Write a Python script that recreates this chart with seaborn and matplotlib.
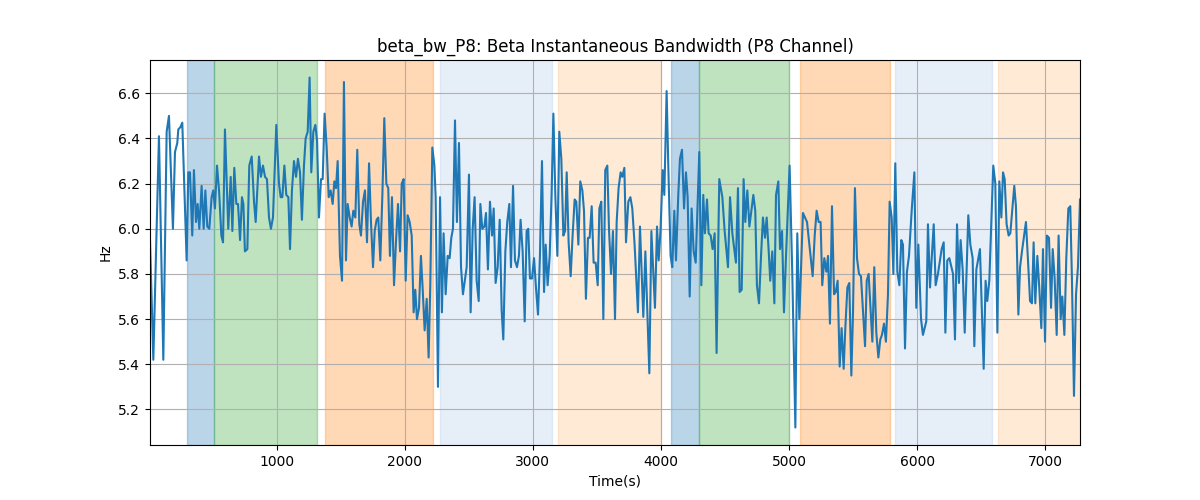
import numpy as np
import pandas as pd
import matplotlib
matplotlib.use("Agg")
import matplotlib.pyplot as plt
import seaborn as sns

# beta bandwidth, P8 channel
time_s = [
    11, 37, 81, 115, 141, 159, 190, 206, 224, 232, 248, 263, 297, 310, 323, 341, 354, 370, 383, 396,
    414, 430, 443, 458, 474, 492, 505, 518, 534, 550, 568, 581, 596, 622, 641, 654, 669, 685, 698, 714,
    729, 740, 752,
    771, 786, 805, 823, 836, 862, 877, 893, 909, 924, 940, 955, 971, 997, 1018, 1031, 1044, 1060, 1075, 1091,
    1104, 1119, 1135, 1151, 1166, 1182, 1197, 1213, 1226, 1242, 1257, 1270, 1286, 1302, 1315, 1330, 1346, 1359,
    1374, 1390, 1406, 1421, 1437, 1450, 1463, 1476, 1494,
    1510, 1525, 1541, 1554, 1570, 1585, 1598, 1614, 1629, 1645, 1658, 1674, 1689, 1705, 1721, 1736, 1752, 1765,
    1780, 1793, 1809, 1825, 1840, 1856, 1871, 1884, 1900, 1916, 1931, 1947, 1963, 1976, 1991, 2007, 2022, 2038,
    2054, 2069, 2082, 2095, 2111, 2126, 2139, 2155, 2171, 2186, 2199, 2215, 2231,
    2241, 2259, 2275, 2290, 2303, 2319, 2335, 2350, 2363, 2376, 2392, 2407, 2423, 2439, 2454, 2483, 2501, 2514,
    2530, 2545, 2561, 2577, 2590, 2605, 2621, 2634, 2649, 2665, 2681, 2694, 2709, 2725, 2741, 2756, 2769, 2785,
    2800, 2816, 2829, 2845, 2860, 2876, 2891, 2904, 2920, 2936, 2951, 2964, 2977,
    2993, 3009, 3024, 3040, 3055, 3071, 3087, 3100, 3115, 3131, 3146, 3160, 3175, 3191, 3206, 3222, 3238, 3251,
    3264, 3279, 3295, 3310, 3326, 3339, 3355, 3370, 3386, 3399, 3414, 3430, 3443, 3459, 3474, 3490, 3506, 3519,
    3534, 3550, 3565, 3581, 3594, 3610, 3625, 3641, 3654, 3669, 3685, 3698, 3714,
    3727, 3745, 3761, 3776, 3794, 3820, 3836, 3862, 3878, 3909, 3925, 3953, 3969, 3982, 3997, 4013, 4026, 4044,
    4057, 4075, 4088, 4104, 4117, 4135, 4148, 4164, 4180, 4195, 4208, 4224, 4239, 4255, 4271, 4284, 4299, 4315,
    4330, 4343, 4359, 4372, 4388, 4403, 4419, 4434, 4455,
    4479, 4497, 4523, 4539, 4557, 4585, 4601, 4614, 4630, 4645, 4658, 4674, 4690, 4721, 4736, 4749, 4765, 4781,
    4796, 4812, 4825, 4840, 4853, 4869, 4885, 4898, 4916, 4929, 4945, 4960, 4976, 5004, 5025, 5049, 5064, 5080,
    5108, 5140, 5184,
    5200, 5215, 5231, 5246, 5259, 5275, 5291, 5304, 5319, 5335, 5351, 5364, 5379, 5395, 5410, 5426, 5439, 5455,
    5470, 5486, 5499, 5514, 5530, 5546, 5561, 5593, 5606, 5621, 5650, 5665, 5681, 5697, 5712, 5725, 5741, 5756,
    5772, 5785, 5801, 5814, 5829, 5845, 5861, 5876, 5889, 5905, 5920,
    5936, 5957, 5978, 5993, 6009, 6030, 6045, 6071, 6084, 6100, 6129, 6144, 6162, 6191, 6207, 6220, 6235, 6251,
    6280, 6295, 6311, 6326, 6339, 6355, 6371, 6399, 6415, 6433, 6446, 6462, 6490, 6519, 6534, 6547, 6563, 6594,
    6610, 6626, 6641, 6657, 6670,
    6683, 6698, 6714, 6727, 6743, 6758, 6771, 6790, 6803, 6818, 6849, 6865, 6881, 6896, 6909, 6922, 6938, 6953,
    6969, 6982, 6998, 7013, 7029, 7045, 7058, 7073, 7089, 7104, 7120, 7133, 7149, 7164, 7180, 7195, 7208, 7224,
    7240, 7255, 7271,
]

bw_hz = [
    5.95, 5.42, 6.41, 5.42, 6.43, 6.50, 6.00, 6.34, 6.38, 6.44, 6.45, 6.47, 5.86, 6.25, 6.25, 5.97, 6.26, 6.03, 6.11, 6.00,
    6.19, 6.00, 6.17, 6.01, 6.00, 6.14, 6.17, 6.09, 6.28, 6.17, 5.97, 5.94, 6.44, 6.00, 6.23, 5.99, 6.27, 6.11, 6.11, 5.95,
    6.14, 6.11, 5.90,
    5.91, 6.28, 6.32, 6.12, 6.03, 6.32, 6.23, 6.28, 6.23, 6.22, 6.05, 6.00, 6.05, 6.46, 6.20, 6.14, 6.14, 6.28, 6.15, 6.14,
    5.91, 6.17, 6.30, 6.23, 6.31, 6.25, 6.04, 6.28, 6.40, 6.43, 6.67, 6.25, 6.43, 6.46, 6.39, 6.05, 6.22, 6.22,
    6.51, 6.36, 6.14, 6.17, 6.11, 6.21, 6.18, 6.30, 5.88,
    5.77, 6.65, 5.86, 6.11, 6.05, 6.01, 6.08, 6.05, 6.35, 6.02, 5.97, 6.12, 6.17, 5.94, 6.29, 6.03, 5.83, 5.99,
    6.04, 6.05, 5.86, 6.15, 6.49, 6.20, 6.18, 5.88, 6.14, 5.75, 5.94, 6.11, 5.90, 6.20, 6.22, 5.77, 6.06, 6.03,
    5.97, 5.63, 5.73, 5.60, 5.65, 5.88, 5.74, 5.55, 5.69, 5.43, 5.75, 6.36, 6.28,
    6.14, 5.30, 6.14, 5.63, 5.98, 5.71, 5.88, 5.87, 5.96, 6.00, 6.48, 6.03, 6.38, 5.83, 5.71, 5.83, 6.24, 5.63,
    6.00, 6.14, 5.77, 5.68, 6.11, 6.00, 6.01, 6.07, 5.82, 6.12, 5.97, 6.09, 5.76, 5.83, 6.04, 5.64, 5.51, 5.90,
    6.03, 6.11, 5.83, 6.19, 5.86, 5.83, 5.88, 6.04, 5.90, 5.59, 5.99, 6.00, 5.78,
    5.78, 5.87, 5.74, 5.62, 5.88, 6.30, 5.72, 5.93, 5.75, 5.88, 6.15, 6.51, 6.15, 5.88, 6.43, 6.31, 5.97, 5.99,
    6.25, 5.94, 5.79, 5.97, 6.13, 6.12, 5.93, 6.21, 6.17, 6.08, 5.69, 5.96, 5.96, 6.10, 5.85, 5.85, 5.75, 6.09,
    6.12, 5.60, 6.26, 6.28, 6.00, 5.80, 5.99, 5.60, 6.03, 6.18, 6.25, 6.23, 6.27,
    5.94, 6.12, 6.14, 6.09, 5.93, 5.63, 6.01, 5.61, 5.90, 5.36, 5.99, 5.65, 6.01, 5.86, 6.00, 6.26, 6.15, 6.61,
    6.28, 5.88, 5.83, 6.08, 5.86, 6.15, 6.31, 6.35, 6.09, 6.25, 6.14, 5.70, 6.09, 5.90, 5.85, 6.08, 6.34, 5.75,
    6.15, 5.98, 6.13, 5.98, 5.97, 5.91, 5.98, 5.45, 6.22,
    6.14, 5.99, 5.83, 6.14, 5.98, 5.85, 6.18, 5.72, 5.73, 6.22, 6.03, 6.17, 6.01, 6.15, 6.08, 5.75, 5.67, 5.88,
    6.05, 5.96, 6.05, 5.91, 5.77, 5.90, 5.67, 6.15, 6.21, 5.91, 5.99, 5.63, 5.88, 6.28, 5.80, 5.12, 5.98, 5.60,
    6.07, 6.03, 5.79,
    5.97, 6.08, 6.03, 6.03, 5.75, 5.87, 5.81, 5.88, 5.58, 6.10, 5.71, 5.72, 5.77, 5.39, 5.56, 5.38, 5.56, 5.74,
    5.76, 5.35, 5.63, 6.18, 5.87, 5.80, 5.79, 5.48, 5.77, 5.80, 5.50, 5.83, 5.54, 5.43, 5.51, 5.53, 5.58, 5.50,
    5.71, 6.12, 6.05, 5.80, 6.29, 5.81, 5.75, 5.95, 5.93, 5.47, 5.81,
    5.88, 6.08, 6.25, 5.65, 5.93, 5.60, 5.53, 5.59, 6.02, 5.74, 6.02, 5.75, 5.80, 5.91, 5.94, 5.54, 5.86, 5.87,
    5.80, 5.51, 6.02, 5.76, 5.95, 5.82, 5.54, 6.06, 5.93, 5.87, 5.48, 5.82, 5.91, 5.38, 5.77, 5.68, 5.77, 6.28,
    6.20, 5.54, 6.21, 6.05, 6.25,
    6.22, 6.02, 5.97, 5.98, 6.09, 6.19, 6.10, 5.62, 5.83, 5.90, 6.03, 5.86, 5.68, 5.67, 5.94, 5.67, 5.88, 5.74,
    5.56, 5.91, 5.50, 5.97, 5.96, 5.65, 5.91, 5.78, 5.53, 5.97, 5.60, 5.70, 5.53, 5.87, 6.09, 6.10, 5.78, 5.26,
    5.71, 5.83, 6.13,
]

# shaded task periods
span_start = [303, 508, 1379, 2275, 3198, 4078, 4294, 5087, 5829, 6633]
span_end = [508, 1312, 2220, 3147, 3998, 4294, 4999, 5788, 6581, 7300]
span_color = ["#1f77b4", "#2ca02c", "#ff7f0e", "#aec7e8", "#ffbb78",
              "#1f77b4", "#2ca02c", "#ff7f0e", "#aec7e8", "#ffbb78"]

df = pd.DataFrame({"Time(s)": time_s, "Hz": bw_hz})

fig, ax = plt.subplots(figsize=(12, 5), dpi=100)

for s, e, c in zip(span_start, span_end, span_color):
    ax.axvspan(s, e, color=c, alpha=0.3)

sns.lineplot(data=df, x="Time(s)", y="Hz", ax=ax, color="tab:blue", linewidth=1.5)

ax.set_xlim(df["Time(s)"].min(), df["Time(s)"].max())
ax.set_title("beta_bw_P8: Beta Instantaneous Bandwidth (P8 Channel)")
ax.set_xlabel("Time(s)")
ax.set_ylabel("Hz")
ax.grid(True)

plt.savefig("out.png")
